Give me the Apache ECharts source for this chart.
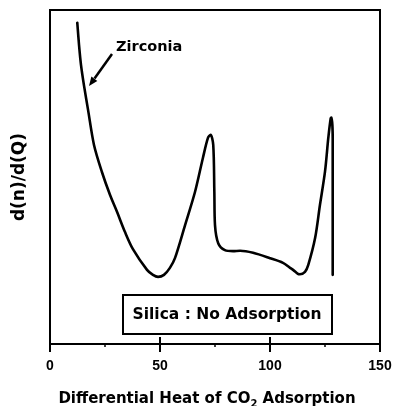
<!DOCTYPE html>
<html>
<head>
<meta charset="utf-8">
<script src="https://cdn.jsdelivr.net/npm/echarts@6/dist/echarts.min.js"></script>
<style>
  html, body { margin: 0; padding: 0; background: #fff; }
  #chart { width: 395px; height: 406px; }
</style>
</head>
<body>
<div id="chart"></div>
<script>
// Differential heat of CO2 adsorption on zirconia (kJ/mol) and d(n)/d(Q), arbitrary units
const heatValues = [12.4, 13.2, 14.1, 15.5, 17.3, 20.0, 23.6, 27.3, 30.5, 34.1, 37.7, 44.1, 46.8, 49.1, 51.8,
  54.5, 56.8, 61.4, 65.9, 69.5, 71.8, 73.0, 74.2, 74.7, 75.0, 76.5, 79.5, 83.2, 86.4, 92.3, 100.0,
  105.9, 109.1, 110.5, 112.7, 113.6, 115.9, 117.4, 120.5, 122.7, 125.0, 126.5, 127.6, 128.0, 128.5,
  128.5, 128.5];
const derivValues = [96.2, 89.5, 83.5, 77.2, 70.1, 59.6, 51.5, 44.6, 39.5, 33.5, 28.4, 22.2, 20.7, 20.1, 20.7,
  22.8, 25.7, 35.6, 45.5, 55.7, 61.7, 62.6, 59.6, 45.6, 35.6, 30.1, 28.1, 27.8, 27.9, 27.3, 25.7,
  24.3, 22.8, 22.2, 21.0, 20.9, 21.6, 23.7, 31.7, 41.6, 51.6, 61.7, 67.6, 67.8, 61.7,
  43.1, 20.7];
const xTicks = { min: 0, max: 150, step: 50 };

const curve = heatValues.map((h, i) => [h, derivValues[i]]);

const chart = echarts.init(document.getElementById('chart'));
const ink = '#000';
const bold = { color: ink, fontWeight: 'bold' };

chart.setOption({
  animation: false,
  backgroundColor: '#fff',
  grid: { left: 50, right: 15, top: 10, bottom: 62, outerBoundsMode: 'none', containLabel: false,
    show: true, borderColor: ink, borderWidth: 2, backgroundColor: 'transparent' },
  xAxis: [
    {
      type: 'value', min: xTicks.min, max: xTicks.max, interval: xTicks.step,
      axisLine: { show: true, lineStyle: { color: ink, width: 2 } },
      axisTick: { show: true, inside: false, length: 8, lineStyle: { color: ink, width: 2 } },
      minorTick: { show: true, splitNumber: 2, length: 3, lineStyle: { color: ink, width: 1.5 } },
      splitLine: { show: false },
      axisLabel: Object.assign({ fontFamily: 'Liberation Sans', fontSize: 14, margin: 15 }, bold),
      name: '{t|Differential Heat of CO}{s|2}{t| Adsorption}',
      nameLocation: 'middle', nameGap: 46,
      nameTextStyle: {
        padding: [0, 16, 0, 0],
        rich: {
          t: Object.assign({ fontFamily: 'DejaVu Sans', fontSize: 15 }, bold),
          s: Object.assign({ fontFamily: 'DejaVu Sans', fontSize: 10, padding: [9, 0, 0, 0] }, bold)
        }
      }
    },
    {
      type: 'value', min: xTicks.min, max: xTicks.max, interval: xTicks.step,
      position: 'bottom',
      axisLine: { show: false },
      axisTick: { show: true, inside: true, length: 7, lineStyle: { color: ink, width: 2 } },
      axisLabel: { show: false },
      splitLine: { show: false }
    }
  ],
  yAxis: {
    type: 'value', min: 0, max: 100,
    axisLine: { show: true, lineStyle: { color: ink, width: 2 } },
    axisTick: { show: false },
    axisLabel: { show: false },
    splitLine: { show: false },
    name: 'd(n)/d(Q)', nameLocation: 'middle', nameGap: 22, nameRotate: 90,
    nameTextStyle: Object.assign({ fontFamily: 'DejaVu Sans', fontSize: 17 }, bold)
  },
  series: [{
    type: 'line',
    data: curve,
    showSymbol: false,
    smooth: 0.3,
    lineStyle: { color: ink, width: 2.6, join: 'round', cap: 'round' }
  }],
  graphic: [
    { type: 'text', left: 116, top: 40,
      style: { text: 'Zirconia', fill: ink, font: 'bold 14.5px "DejaVu Sans"' } },
    { type: 'line', shape: { x1: 112, y1: 54, x2: 94.5, y2: 78.5 },
      style: { stroke: ink, lineWidth: 2.5 } },
    { type: 'polygon', shape: { points: [[89, 86], [97.3, 80.9], [91.4, 76.5]] },
      style: { fill: ink } },
    { type: 'rect', shape: { x: 123, y: 295, width: 209, height: 39 },
      style: { fill: '#fff', stroke: ink, lineWidth: 2 } },
    { type: 'text', x: 227, y: 315,
      style: { text: 'Silica : No Adsorption', fill: ink, font: 'bold 15.5px "DejaVu Sans"',
        textAlign: 'center', textVerticalAlign: 'middle' } }
  ]
});
</script>
</body>
</html>
